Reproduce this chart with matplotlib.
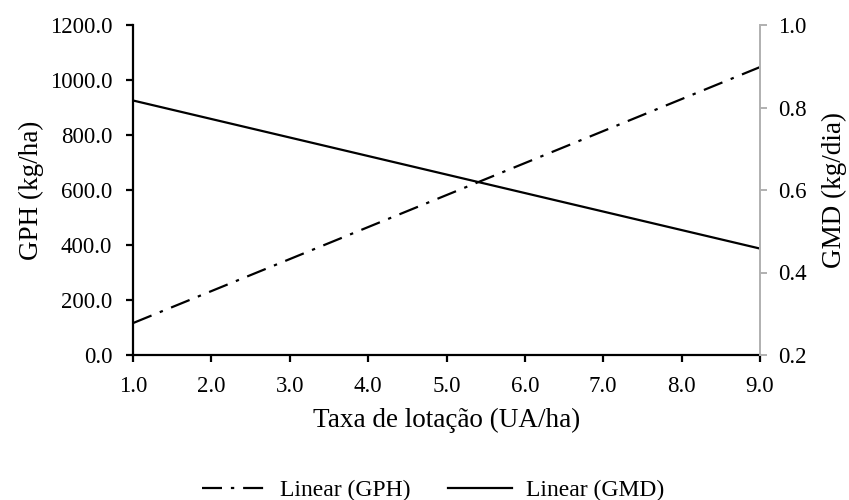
import matplotlib.pyplot as plt

plt.rcParams['font.family'] = ['Liberation Serif', 'DejaVu Serif']

# Trend lines (endpoints of the linear fits)
taxa = [1.0, 9.0]
gph = [116.0, 1047.0]
gmd = [0.817, 0.458]

x_ticks = [1.0, 2.0, 3.0, 4.0, 5.0, 6.0, 7.0, 8.0, 9.0]
gph_ticks = [0, 200, 400, 600, 800, 1000, 1200]
gmd_ticks = [0.2, 0.4, 0.6, 0.8, 1.0]

fig = plt.figure(figsize=(8.49, 5.0), dpi=100)
ax1 = fig.add_axes([133 / 849, 1 - 355 / 500, (760 - 133) / 849, 330 / 500])
ax2 = ax1.twinx()

l1, = ax1.plot(taxa, gph, color='black', lw=1.6, dashes=(9, 4, 1.5, 4), label='Linear (GPH)')
l2, = ax2.plot(taxa, gmd, color='black', lw=1.6, label='Linear (GMD)')

ax1.set_xlim(1.0, 9.0)
ax1.set_ylim(0, 1200)
ax2.set_ylim(0.2, 1.0)
ax1.set_xticks(x_ticks)
ax1.set_xticklabels(['%.1f' % v for v in x_ticks])
ax1.set_yticks(gph_ticks)
ax1.set_yticklabels(['%.1f' % v for v in gph_ticks])
ax2.set_yticks(gmd_ticks)
ax2.set_yticklabels(['%.1f' % v for v in gmd_ticks])

for ax in (ax1, ax2):
    ax.spines['top'].set_visible(False)
ax2.spines['left'].set_visible(False)
ax2.spines['bottom'].set_visible(False)
ax1.spines['right'].set_visible(False)
ax1.spines['left'].set_linewidth(1.6)
ax1.spines['bottom'].set_linewidth(1.6)
ax2.spines['right'].set_color('#b0b0b0')
ax2.spines['right'].set_linewidth(1.4)

ax1.tick_params(axis='both', direction='out', length=5, width=1.6, labelsize=16.5, colors='black')
ax1.tick_params(axis='y', pad=10)
ax1.tick_params(axis='x', pad=10)
ax2.tick_params(axis='y', direction='out', length=5, width=1.4, color='#b0b0b0',
                labelcolor='black', labelsize=16.5, pad=8)

ax1.set_xlabel('Taxa de lotação (UA/ha)', fontsize=19.5, labelpad=8)
ax1.set_ylabel('GPH (kg/ha)', fontsize=19.5, labelpad=4)
ax2.set_ylabel('GMD (kg/dia)', fontsize=19.5, labelpad=11)

fig.legend([l1, l2], ['Linear (GPH)', 'Linear (GMD)'], loc='center', bbox_to_anchor=(0.51, 0.02),
           ncol=2, frameon=False, fontsize=17, handlelength=2.7, handletextpad=0.6,
           columnspacing=1.6)

fig.savefig('out.png', dpi=100)
